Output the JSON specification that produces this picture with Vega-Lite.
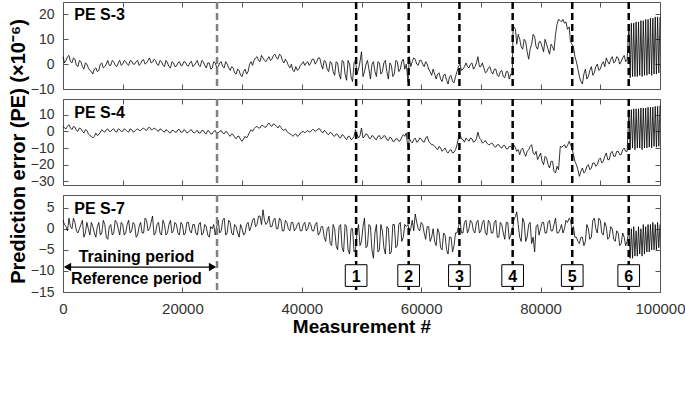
{
"$schema":"https://vega.github.io/schema/vega-lite/v6.json",
"padding":{"left":7,"top":0,"right":0,"bottom":0},
"bounds":"flush",
"spacing":10,
"config":{"font":"Liberation Sans","view":{"stroke":"#555","strokeWidth":1},"axis":{"grid":false,"domain":false,"tickColor":"#555","tickSize":-5,"tickWidth":1,"labelColor":"#333","labelFlush":false,"labelOverlap":false,"labelBound":false}},
"datasets":{
"ev":[{"x":49100,"n":"1"},{"x":57900,"n":"2"},{"x":66400,"n":"3"},{"x":75320,"n":"4"},{"x":85300,"n":"5"},{"x":94760,"n":"6"}],
"series":[
{"x":0,"a":3,"b":3,"c":2},{"x":250,"a":0.5,"b":2,"c":1},{"x":500,"a":1.5,"b":1.5,"c":0.5},{"x":750,"a":3,"b":3,"c":-0.5},{"x":1000,"a":3.5,"b":4,"c":2.5},{"x":1250,"a":1,"b":2,"c":0.5},{"x":1500,"a":0.5,"b":1,"c":0},{"x":1750,"a":2.5,"b":3,"c":2.5},{"x":2000,"a":2,"b":2.5,"c":1.5},{"x":2250,"a":-0.5,"b":0.5,"c":-0.5},
{"x":2500,"a":-1,"b":0,"c":-1},{"x":2750,"a":1.5,"b":2,"c":0},{"x":3000,"a":1,"b":1.5,"c":1},{"x":3250,"a":-1,"b":0,"c":2},{"x":3500,"a":-2,"b":-1,"c":-2},{"x":3750,"a":0.5,"b":1,"c":-1},{"x":4000,"a":0,"b":0.5,"c":1.5},{"x":4250,"a":-1.5,"b":-1.5,"c":0},{"x":4500,"a":-2.5,"b":-2.5,"c":-1.5},{"x":4750,"a":-3,"b":-3,"c":1.5},
{"x":5000,"a":-4,"b":-4,"c":0.5},{"x":5250,"a":-2,"b":-3,"c":-1},{"x":5500,"a":-1.5,"b":-1,"c":-2},{"x":5750,"a":-3,"b":-2.5,"c":0.5},{"x":6000,"a":-2.5,"b":-2,"c":1.5},{"x":6250,"a":0,"b":-0.5,"c":-1.5},{"x":6500,"a":0.5,"b":1,"c":-1},{"x":6750,"a":-1.5,"b":0,"c":2},{"x":7000,"a":-1,"b":-0.5,"c":1},{"x":7250,"a":0,"b":1,"c":-2},
{"x":7500,"a":1.5,"b":1.5,"c":-2.5},{"x":7750,"a":-0.5,"b":0,"c":0.5},{"x":8000,"a":-0.5,"b":0,"c":1},{"x":8250,"a":1.5,"b":1,"c":-1.5},{"x":8500,"a":1,"b":1.5,"c":-1},{"x":8750,"a":-0.5,"b":0,"c":2},{"x":9000,"a":-1,"b":-0.5,"c":1.5},{"x":9250,"a":0.5,"b":1.5,"c":0},{"x":9500,"a":1.5,"b":1,"c":-1.5},{"x":9750,"a":-0.5,"b":0,"c":1.5},
{"x":10000,"a":0,"b":0,"c":1},{"x":10250,"a":1.5,"b":1.5,"c":-1.5},{"x":10500,"a":1,"b":1,"c":-1},{"x":10750,"a":0,"b":0,"c":1},{"x":11000,"a":-0.5,"b":-0.5,"c":2},{"x":11250,"a":1.5,"b":1.5,"c":-1},{"x":11500,"a":1.2,"b":1,"c":-0.5},{"x":11750,"a":0,"b":-0.5,"c":1.5},{"x":12000,"a":0,"b":0,"c":1},{"x":12250,"a":1,"b":1,"c":-2},
{"x":12500,"a":1.5,"b":1.5,"c":-1.5},{"x":12750,"a":-0.5,"b":0.5,"c":0.5},{"x":13000,"a":0.2,"b":0.5,"c":1.5},{"x":13250,"a":1.5,"b":1.5,"c":-1},{"x":13500,"a":1.8,"b":2,"c":-1},{"x":13750,"a":0,"b":1,"c":2.5},{"x":14000,"a":0.5,"b":0.5,"c":2},{"x":14250,"a":1.5,"b":2,"c":-0.5},{"x":14500,"a":2.5,"b":2.5,"c":0},{"x":14750,"a":0.5,"b":1,"c":1.5},
{"x":15000,"a":0.8,"b":1,"c":3},{"x":15250,"a":2,"b":2,"c":-1.5},{"x":15500,"a":1.5,"b":1.5,"c":-1},{"x":15750,"a":0,"b":0.5,"c":1},{"x":16000,"a":-0.5,"b":0,"c":1.5},{"x":16250,"a":1.5,"b":1.5,"c":-1},{"x":16500,"a":1,"b":1,"c":-1.5},{"x":16750,"a":-0.5,"b":0,"c":2},{"x":17000,"a":-1,"b":-0.5,"c":1},{"x":17250,"a":1.5,"b":1,"c":-1.5},
{"x":17500,"a":0.5,"b":0.5,"c":-1},{"x":17750,"a":-1,"b":-0.5,"c":1},{"x":18000,"a":-1.5,"b":-1,"c":2},{"x":18250,"a":1,"b":0.5,"c":-1},{"x":18500,"a":0.5,"b":0.5,"c":-0.5},{"x":18750,"a":-1,"b":-0.5,"c":1.5},{"x":19000,"a":-0.8,"b":-0.5,"c":1},{"x":19250,"a":0.5,"b":1,"c":-1},{"x":19500,"a":1,"b":1,"c":-1.5},{"x":19750,"a":-0.5,"b":-0.5,"c":1.5},
{"x":20000,"a":-0.5,"b":-0.5,"c":1},{"x":20250,"a":1,"b":1,"c":-1.5},{"x":20500,"a":0.8,"b":0.5,"c":-1},{"x":20750,"a":-0.5,"b":-1,"c":1.5},{"x":21000,"a":-0.8,"b":-0.5,"c":1.5},{"x":21250,"a":0.5,"b":0.5,"c":-0.5},{"x":21500,"a":1.2,"b":1,"c":-1},{"x":21750,"a":-1,"b":-0.5,"c":1},{"x":22000,"a":-0.5,"b":-1,"c":1},{"x":22250,"a":0.5,"b":0,"c":-1},
{"x":22500,"a":1.5,"b":0.5,"c":-1.5},{"x":22750,"a":-0.5,"b":-1,"c":1},{"x":23000,"a":-1,"b":-1,"c":1.5},{"x":23250,"a":1.5,"b":0.5,"c":-1.5},{"x":23500,"a":1,"b":0.5,"c":-1},{"x":23750,"a":-0.5,"b":-1,"c":1},{"x":24000,"a":-1.5,"b":-1.5,"c":0.5},{"x":24250,"a":0.5,"b":0.5,"c":-1.5},{"x":24500,"a":0.5,"b":0,"c":-2},{"x":24750,"a":-2,"b":-1.5,"c":0.5},
{"x":25000,"a":-1.5,"b":-1.5,"c":0},{"x":25250,"a":1,"b":0,"c":1},{"x":25500,"a":0.5,"b":0.5,"c":-1.5},{"x":25750,"a":-1.5,"b":-1.5,"c":0.5},{"x":26000,"a":-1,"b":-1,"c":2},{"x":26250,"a":0.5,"b":0,"c":-1},{"x":26500,"a":1,"b":0.5,"c":-0.5},{"x":26750,"a":-1,"b":-1,"c":2},{"x":27000,"a":-1.5,"b":-1.5,"c":2.5},{"x":27250,"a":1,"b":0,"c":-1.5},
{"x":27500,"a":0,"b":-0.5,"c":-1},{"x":27750,"a":-1.5,"b":-2,"c":2},{"x":28000,"a":-2.5,"b":-3,"c":1.5},{"x":28250,"a":-1,"b":-1.5,"c":-1},{"x":28500,"a":-1.5,"b":-2,"c":-1.5},{"x":28750,"a":-3.5,"b":-3.5,"c":1},{"x":29000,"a":-4,"b":-4.5,"c":0.5},{"x":29250,"a":-2,"b":-3,"c":-1},{"x":29500,"a":-2.5,"b":-3,"c":-2},{"x":29750,"a":-4.5,"b":-5,"c":1},
{"x":30000,"a":-5,"b":-6,"c":0},{"x":30250,"a":-3,"b":-4.5,"c":-1.5},{"x":30500,"a":-2,"b":-3,"c":-1},{"x":30750,"a":-4,"b":-4,"c":1},{"x":31000,"a":-3,"b":-2.5,"c":1.5},{"x":31250,"a":0,"b":-0.5,"c":-0.5},{"x":31500,"a":1,"b":1,"c":0.5},{"x":31750,"a":-0.5,"b":0,"c":2},{"x":32000,"a":1.5,"b":1.5,"c":2.5},{"x":32250,"a":2.5,"b":2.5,"c":0.5},
{"x":32500,"a":3,"b":3,"c":1},{"x":32750,"a":1.5,"b":2,"c":3},{"x":33000,"a":1,"b":2,"c":3},{"x":33250,"a":3.5,"b":3.5,"c":1},{"x":33500,"a":2.5,"b":3.5,"c":4.5},{"x":33750,"a":1.5,"b":2.5,"c":2},{"x":34000,"a":1,"b":2.5,"c":1},{"x":34250,"a":2,"b":4,"c":1.5},{"x":34500,"a":3,"b":5,"c":3},{"x":34750,"a":1.5,"b":3.5,"c":0.5},
{"x":35000,"a":2,"b":3,"c":0.5},{"x":35250,"a":3.5,"b":4.5,"c":2},{"x":35500,"a":4,"b":4,"c":2.5},{"x":35750,"a":2.5,"b":3,"c":0},{"x":36000,"a":2,"b":2,"c":0},{"x":36250,"a":4,"b":3.5,"c":2.5},{"x":36500,"a":3.5,"b":2.5,"c":2},{"x":36750,"a":1.5,"b":1,"c":-0.5},{"x":37000,"a":0.5,"b":0.5,"c":-0.5},{"x":37250,"a":2,"b":1.5,"c":2},
{"x":37500,"a":1,"b":0,"c":1.5},{"x":37750,"a":-0.5,"b":-1,"c":0},{"x":38000,"a":-1.5,"b":-1.5,"c":-0.5},{"x":38250,"a":0,"b":-2,"c":1.5},{"x":38500,"a":-2.5,"b":-3,"c":1.5},{"x":38750,"a":-3,"b":-2,"c":-0.5},{"x":39000,"a":-1,"b":-1.5,"c":0},{"x":39250,"a":-2.5,"b":-3,"c":1},{"x":39500,"a":-2,"b":-2.5,"c":1.5},{"x":39750,"a":-0.5,"b":-1,"c":-0.5},
{"x":40000,"a":0,"b":-0.5,"c":-0.5},{"x":40250,"a":1,"b":0,"c":1},{"x":40500,"a":-0.5,"b":-1,"c":1.5},{"x":40750,"a":0.5,"b":0,"c":-0.5},{"x":41000,"a":1,"b":0.5,"c":0},{"x":41250,"a":-0.5,"b":-0.5,"c":1.5},{"x":41500,"a":0.5,"b":0,"c":1},{"x":41750,"a":2,"b":1,"c":-0.5},{"x":42000,"a":2,"b":1,"c":-0.5},{"x":42250,"a":0,"b":0,"c":1},
{"x":42500,"a":1,"b":0.5,"c":1.5},{"x":42750,"a":2.5,"b":1.5,"c":-1.5},{"x":43000,"a":2.5,"b":1.5,"c":-1},{"x":43250,"a":0,"b":0,"c":0.5},{"x":43500,"a":-2,"b":-1,"c":0.5},{"x":43750,"a":1.5,"b":0.5,"c":-2},{"x":44000,"a":1,"b":0,"c":-3},{"x":44250,"a":-2,"b":-1.5,"c":0},{"x":44500,"a":-3,"b":-2,"c":0.5},{"x":44750,"a":1,"b":-0.5,"c":-3.5},
{"x":45000,"a":0.5,"b":-1,"c":-4},{"x":45250,"a":-3,"b":-2.5,"c":1},{"x":45500,"a":-4.5,"b":-3,"c":0},{"x":45750,"a":1,"b":-1.5,"c":-4},{"x":46000,"a":0.5,"b":-2,"c":-5},{"x":46250,"a":-4,"b":-3.5,"c":0.5},{"x":46500,"a":-6,"b":-4,"c":1},{"x":46750,"a":1.5,"b":-2,"c":-4.5},{"x":47000,"a":1,"b":-2.5,"c":-5.5},{"x":47250,"a":-4,"b":-4,"c":1},
{"x":47500,"a":-6.5,"b":-5,"c":0.5},{"x":47750,"a":1.5,"b":-3,"c":-5},{"x":48000,"a":0,"b":-3,"c":-6},{"x":48250,"a":-5,"b":-5,"c":0},{"x":48500,"a":-7,"b":-4.5,"c":0},{"x":48750,"a":0.5,"b":-3,"c":-5.5},{"x":49000,"a":1.5,"b":1,"c":-5},{"x":49250,"a":-4,"b":-2,"c":-1},{"x":49500,"a":-2,"b":-4,"c":1},{"x":49750,"a":1,"b":-2.5,"c":-4},
{"x":50000,"a":5,"b":2,"c":-3},{"x":50250,"a":-5,"b":-4,"c":0.5},{"x":50500,"a":-3,"b":-3,"c":2.5},{"x":50750,"a":0,"b":-1.5,"c":-4.5},{"x":51000,"a":1.5,"b":-2,"c":-4},{"x":51250,"a":-2,"b":-4,"c":1},{"x":51500,"a":-6,"b":-4.5,"c":0.5},{"x":51750,"a":0,"b":-2.5,"c":-5},{"x":52000,"a":1,"b":-3,"c":-7},{"x":52250,"a":-3,"b":-4.5,"c":-1},
{"x":52500,"a":-5,"b":-5,"c":1},{"x":52750,"a":1,"b":-3,"c":-5.5},{"x":53000,"a":0.5,"b":-2.5,"c":-5},{"x":53250,"a":-4,"b":-4.5,"c":1},{"x":53500,"a":-3,"b":-4,"c":-0.5},{"x":53750,"a":0.5,"b":-2.5,"c":-4.5},{"x":54000,"a":1.5,"b":-3,"c":-6},{"x":54250,"a":-3,"b":-5,"c":0.5},{"x":54500,"a":-6,"b":-5.5,"c":0},{"x":54750,"a":0.5,"b":-3.5,"c":-6},
{"x":55000,"a":-0.5,"b":-4,"c":-5.5},{"x":55250,"a":-5,"b":-6,"c":1},{"x":55500,"a":-4,"b":-6,"c":1},{"x":55750,"a":1.5,"b":-4.5,"c":-4.5},{"x":56000,"a":1,"b":-4.5,"c":-4},{"x":56250,"a":-3,"b":-6,"c":1},{"x":56500,"a":-2,"b":-5.5,"c":1.5},{"x":56750,"a":1,"b":-3.5,"c":-3},{"x":57000,"a":2,"b":-2,"c":-2},{"x":57250,"a":-2,"b":-3,"c":1},
{"x":57500,"a":0,"b":-1,"c":0.5},{"x":57800,"a":-7,"b":-11,"c":1},{"x":58000,"a":3,"b":-4,"c":-1},{"x":58250,"a":-1,"b":-6,"c":0},{"x":58500,"a":1,"b":-7,"c":2},{"x":58750,"a":2.5,"b":-5,"c":-0.5},{"x":59000,"a":2,"b":-4,"c":3.5},{"x":59250,"a":0,"b":-6.5,"c":1.5},{"x":59500,"a":-0.5,"b":-6,"c":0},{"x":59750,"a":1.5,"b":-4,"c":-0.5},
{"x":60000,"a":1.5,"b":-4.5,"c":1.5},{"x":60250,"a":0,"b":-6,"c":1},{"x":60500,"a":-1,"b":-6.5,"c":-1},{"x":60750,"a":1,"b":-4,"c":-2.5},{"x":61000,"a":0,"b":-3,"c":0.5},{"x":61250,"a":-2,"b":-6,"c":0.5},{"x":61500,"a":-3,"b":-7,"c":-3},{"x":61750,"a":-4.5,"b":-8,"c":-2},{"x":62000,"a":-2,"b":-8,"c":0},{"x":62250,"a":-4,"b":-9,"c":-3},
{"x":62500,"a":-6,"b":-10,"c":-4},{"x":62750,"a":-4,"b":-11,"c":0},{"x":63000,"a":-3.5,"b":-9,"c":-1},{"x":63250,"a":-6,"b":-10,"c":-4.5},{"x":63500,"a":-7,"b":-12,"c":-5},{"x":63750,"a":-4.5,"b":-11,"c":-1},{"x":64000,"a":-4,"b":-10,"c":-1.5},{"x":64250,"a":-6.5,"b":-12,"c":-5},{"x":64500,"a":-8,"b":-13,"c":-6},{"x":64750,"a":-5,"b":-11.5,"c":-2},
{"x":65000,"a":-4.5,"b":-11,"c":-2},{"x":65250,"a":-7,"b":-13,"c":-5.5},{"x":65500,"a":-7.5,"b":-12.5,"c":-4},{"x":65750,"a":-5,"b":-11,"c":-1},{"x":66000,"a":-3,"b":-8,"c":-1},{"x":66250,"a":-1,"b":-4,"c":0.5},{"x":66500,"a":0,"b":-2,"c":2},{"x":66750,"a":-2.5,"b":-4.5,"c":-1},{"x":67000,"a":-2,"b":-5,"c":-1},{"x":67250,"a":-1,"b":-6.5,"c":1.5},
{"x":67500,"a":0.5,"b":-4,"c":2},{"x":67750,"a":-1,"b":-5,"c":-1},{"x":68000,"a":-1.5,"b":-6,"c":0},{"x":68250,"a":0,"b":-4,"c":2},{"x":68500,"a":0.5,"b":-4.5,"c":1.5},{"x":68750,"a":-2,"b":-6.5,"c":-0.5},{"x":69000,"a":-1,"b":-6,"c":-1},{"x":69250,"a":0.5,"b":-4.5,"c":1.5},{"x":69500,"a":3,"b":-0.5,"c":2},{"x":69750,"a":-1,"b":-4,"c":-1},
{"x":70000,"a":-1,"b":-5,"c":-0.5},{"x":70250,"a":0.5,"b":-7,"c":1.5},{"x":70500,"a":-1.5,"b":-6.5,"c":2},{"x":70750,"a":-3.5,"b":-5.5,"c":-1},{"x":71000,"a":-3,"b":-7,"c":-1.5},{"x":71250,"a":-1.5,"b":-8,"c":2},{"x":71500,"a":-1,"b":-8,"c":1.5},{"x":71750,"a":-3,"b":-7,"c":-1},{"x":72000,"a":-4,"b":-7.5,"c":-1},{"x":72250,"a":-2,"b":-9,"c":1.5},
{"x":72500,"a":-2,"b":-9.5,"c":2},{"x":72750,"a":-4.5,"b":-8,"c":-2},{"x":73000,"a":-5,"b":-8,"c":-2},{"x":73250,"a":-3,"b":-9.5,"c":1.5},{"x":73500,"a":-2.5,"b":-10,"c":1},{"x":73750,"a":-5,"b":-8.5,"c":-1},{"x":74000,"a":-5.5,"b":-8.5,"c":-2.5},{"x":74250,"a":-3,"b":-10.5,"c":1.5},{"x":74500,"a":-3,"b":-10.5,"c":1.5},{"x":74750,"a":-6,"b":-9,"c":-2.5},
{"x":75000,"a":-4,"b":-9,"c":-1.5},{"x":75250,"a":-4.5,"b":-10,"c":0},{"x":75400,"a":15.5,"b":-9,"c":0.5},{"x":75500,"a":15,"b":-8,"c":2},{"x":75800,"a":14,"b":-10,"c":3},{"x":76000,"a":8,"b":-12,"c":4},{"x":76250,"a":12,"b":-11,"c":1},{"x":76500,"a":10,"b":-14,"c":-2},{"x":76750,"a":7,"b":-11,"c":-3},{"x":77000,"a":6,"b":-10,"c":2.5},
{"x":77250,"a":10,"b":-13,"c":1.5},{"x":77500,"a":9,"b":-15,"c":-3},{"x":77750,"a":5,"b":-12,"c":-2},{"x":78000,"a":2,"b":-11,"c":1},{"x":78250,"a":6,"b":-9,"c":1.5},{"x":78500,"a":8,"b":-8,"c":-3.5},{"x":78750,"a":12,"b":-13,"c":-2},{"x":79000,"a":11,"b":-14,"c":-5.5},{"x":79250,"a":7,"b":-12,"c":0.5},{"x":79500,"a":6,"b":-17,"c":1},
{"x":79750,"a":9,"b":-15,"c":-1.5},{"x":80000,"a":9,"b":-13,"c":0},{"x":80250,"a":7,"b":-18,"c":1.5},{"x":80500,"a":5,"b":-20,"c":1.5},{"x":80750,"a":10,"b":-15,"c":-1},{"x":81000,"a":8,"b":-16,"c":-1},{"x":81250,"a":6,"b":-20,"c":1.5},{"x":81500,"a":4,"b":-22,"c":2},{"x":81750,"a":8,"b":-18,"c":-0.5},{"x":82000,"a":7,"b":-18,"c":-0.5},
{"x":82250,"a":5.5,"b":-24,"c":1},{"x":82500,"a":12,"b":-25,"c":2.5},{"x":82750,"a":16,"b":-21,"c":-1},{"x":83000,"a":18,"b":-23,"c":-1},{"x":83300,"a":17.5,"b":-9,"c":0},{"x":83500,"a":17,"b":-9.5,"c":1},{"x":83750,"a":18,"b":-9,"c":-1},{"x":84000,"a":16.5,"b":-8,"c":0},{"x":84250,"a":17,"b":-10,"c":2},{"x":84500,"a":14,"b":-8.5,"c":1.5},
{"x":84800,"a":15,"b":-6,"c":2.5},{"x":85000,"a":9,"b":-8,"c":2},{"x":85250,"a":8,"b":-10,"c":0},{"x":85500,"a":7,"b":-14,"c":0.5},{"x":85750,"a":3,"b":-18,"c":-2},{"x":86000,"a":1,"b":-20,"c":-2},{"x":86250,"a":-2,"b":-23,"c":-3},{"x":86500,"a":-5,"b":-27,"c":-3.5},{"x":86750,"a":-7,"b":-24,"c":-2},{"x":87000,"a":-8,"b":-22,"c":-2},
{"x":87250,"a":-4,"b":-25,"c":-4},{"x":87500,"a":-2,"b":-24,"c":-3},{"x":87750,"a":-6,"b":-21,"c":1},{"x":88000,"a":-5,"b":-20,"c":0},{"x":88250,"a":-2.5,"b":-23,"c":-2.5},{"x":88500,"a":-1,"b":-22,"c":-2},{"x":88750,"a":-4.5,"b":-19,"c":2},{"x":89000,"a":-3.5,"b":-19,"c":2.5},{"x":89250,"a":-1,"b":-21,"c":0},{"x":89500,"a":0,"b":-20,"c":-1},
{"x":89750,"a":-2.5,"b":-17,"c":2.5},{"x":90000,"a":-2,"b":-16,"c":2},{"x":90250,"a":0,"b":-19,"c":-1},{"x":90500,"a":1,"b":-18,"c":-1.5},{"x":90750,"a":-1,"b":-15,"c":1.5},{"x":91000,"a":2.5,"b":-13,"c":0.5},{"x":91250,"a":1,"b":-17,"c":-2.5},{"x":91500,"a":0,"b":-17,"c":-2},{"x":91750,"a":2,"b":-13,"c":0.5},{"x":92000,"a":3,"b":-12,"c":0},
{"x":92250,"a":0.5,"b":-15,"c":-2.5},{"x":92500,"a":1,"b":-15,"c":-3},{"x":92750,"a":3,"b":-12,"c":-0.5},{"x":93000,"a":2.5,"b":-12,"c":-1},{"x":93250,"a":0,"b":-14,"c":-4},{"x":93500,"a":1,"b":-14,"c":-3.5},{"x":93750,"a":2.5,"b":-11,"c":-1},{"x":94000,"a":3.5,"b":-10,"c":-2},{"x":94250,"a":1,"b":-12,"c":-4},{"x":94500,"a":2,"b":-12,"c":-3},
{"x":94800,"a":16,"b":13,"c":0},{"x":95000,"a":-5.5,"b":-11,"c":-7},{"x":95200,"a":16.5,"b":13,"c":0},{"x":95400,"a":-5,"b":-10,"c":-7},{"x":95600,"a":16.5,"b":13.5,"c":0.5},{"x":95800,"a":-5,"b":-11,"c":-6.5},{"x":96000,"a":17,"b":13.5,"c":-0.5},{"x":96200,"a":-5,"b":-10,"c":-6.5},{"x":96400,"a":17,"b":13.5,"c":0.5},{"x":96600,"a":-4.5,"b":-10,"c":-6},
{"x":96800,"a":17.5,"b":14,"c":0},{"x":97000,"a":-5,"b":-11,"c":-6.5},{"x":97200,"a":17.5,"b":14,"c":1},{"x":97400,"a":-4.5,"b":-10,"c":-6},{"x":97600,"a":18,"b":14,"c":0.5},{"x":97800,"a":-4.5,"b":-10,"c":-5.5},{"x":98000,"a":18,"b":14.5,"c":1},{"x":98200,"a":-4,"b":-9.5,"c":-5.5},{"x":98400,"a":18.5,"b":14.5,"c":1},{"x":98600,"a":-4.5,"b":-10,"c":-5},
{"x":98800,"a":18.5,"b":14.5,"c":1.5},{"x":99000,"a":-4,"b":-9,"c":-5},{"x":99200,"a":19,"b":15,"c":1},{"x":99400,"a":-4,"b":-9.5,"c":-5},{"x":99600,"a":19,"b":15,"c":1.5},{"x":99800,"a":-3.5,"b":-9,"c":-4.5},{"x":100000,"a":19,"b":15.5,"c":1}
]},
"data":{"name":"series"},
"vconcat":[
{"width":597,"height":87,
 "resolve":{"axis":{"x":"independent","y":"independent"}},
 "layer":[
  {"mark":{"type":"line","color":"black","strokeWidth":0.8},
   "encoding":{"x":{"field":"x","type":"quantitative","scale":{"domain":[0,100000],"nice":false},"axis":{"orient":"bottom","values":[0,10000,20000,30000,40000,50000,60000,70000,80000,90000,100000],"labels":false,"title":null}},
    "y":{"field":"a","type":"quantitative","scale":{"domain":[-10,25],"nice":false},"axis":{"orient":"left","values":[-10,0,10,20],"labelFontSize":14,"labelPadding":14,"title":null}}}},
  {"data":{"values":[{"x":25800}]},"mark":{"type":"rule","color":"#808080","strokeDash":[7,4],"strokeWidth":2.5},"encoding":{"x":{"field":"x","type":"quantitative","axis":null}}},
  {"data":{"name":"ev"},"mark":{"type":"rule","color":"black","strokeDash":[7,4],"strokeWidth":2.5},"encoding":{"x":{"field":"x","type":"quantitative","axis":null}}},
  {"data":{"values":[{"t":"PE S-3"}]},"mark":{"type":"text","align":"left","baseline":"alphabetic","fontSize":16,"fontWeight":"bold","color":"black"},
   "encoding":{"text":{"field":"t"},"x":{"datum":1890,"type":"quantitative","axis":{"orient":"top","values":[0,10000,20000,30000,40000,50000,60000,70000,80000,90000,100000],"labels":false,"title":null}},
    "y":{"datum":17.6,"type":"quantitative","axis":{"orient":"right","values":[-10,0,10,20],"labels":false,"title":null}}}}
 ]},
{"width":597,"height":86,
 "resolve":{"axis":{"x":"independent","y":"independent"}},
 "layer":[
  {"mark":{"type":"line","color":"black","strokeWidth":0.8},
   "encoding":{"x":{"field":"x","type":"quantitative","scale":{"domain":[0,100000],"nice":false},"axis":{"orient":"bottom","values":[0,10000,20000,30000,40000,50000,60000,70000,80000,90000,100000],"labels":false,"title":null}},
    "y":{"field":"b","type":"quantitative","scale":{"domain":[-32.2,19.4],"nice":false},"axis":{"orient":"left","values":[-30,-20,-10,0,10],"labelFontSize":14,"labelPadding":14,"title":"Prediction error (PE) (×10⁻⁶)","titleFontSize":20,"titleFontWeight":"bold","titleColor":"black","titleAngle":270,"titleAlign":"center","titleBaseline":"alphabetic","titleX":-39,"titleY":52}}}},
  {"data":{"values":[{"x":25800}]},"mark":{"type":"rule","color":"#808080","strokeDash":[7,4],"strokeWidth":2.5},"encoding":{"x":{"field":"x","type":"quantitative","axis":null}}},
  {"data":{"name":"ev"},"mark":{"type":"rule","color":"black","strokeDash":[7,4],"strokeWidth":2.5},"encoding":{"x":{"field":"x","type":"quantitative","axis":null}}},
  {"data":{"values":[{"t":"PE S-4"}]},"mark":{"type":"text","align":"left","baseline":"alphabetic","fontSize":16,"fontWeight":"bold","color":"black"},
   "encoding":{"text":{"field":"t"},"x":{"datum":1890,"type":"quantitative","axis":{"orient":"top","values":[0,10000,20000,30000,40000,50000,60000,70000,80000,90000,100000],"labels":false,"title":null}},
    "y":{"datum":8.0,"type":"quantitative","axis":{"orient":"right","values":[-30,-20,-10,0,10],"labels":false,"title":null}}}}
 ]},
{"width":597,"height":97,
 "resolve":{"axis":{"x":"independent","y":"independent"}},
 "layer":[
  {"mark":{"type":"line","color":"black","strokeWidth":0.8},
   "encoding":{"x":{"field":"x","type":"quantitative","scale":{"domain":[0,100000],"nice":false},"axis":{"orient":"bottom","values":[0,20000,40000,60000,80000,100000],"format":"d","labelFontSize":15,"labelBaseline":"alphabetic","labelPadding":26.7,"title":"Measurement #","titleFontSize":19,"titleFontWeight":"bold","titleColor":"black","titleBaseline":"alphabetic","titleY":40}},
    "y":{"field":"c","type":"quantitative","scale":{"domain":[-15,8],"nice":false},"axis":{"orient":"left","values":[-15,-10,-5,0,5],"labelFontSize":14,"labelPadding":14,"title":null}}}},
  {"data":{"values":[{"x":25800}]},"mark":{"type":"rule","color":"#808080","strokeDash":[7,4],"strokeWidth":2.5},"encoding":{"x":{"field":"x","type":"quantitative","axis":null}}},
  {"data":{"name":"ev"},"mark":{"type":"rule","color":"black","strokeDash":[7,4],"strokeWidth":2.5},"encoding":{"x":{"field":"x","type":"quantitative","axis":null}}},
  {"data":{"name":"ev"},"mark":{"type":"point","shape":"square","size":470,"filled":true,"fill":"white","stroke":"black","strokeWidth":1,"opacity":1},"encoding":{"x":{"field":"x","type":"quantitative","axis":null},"y":{"datum":-11.1,"type":"quantitative","axis":null}}},
  {"data":{"name":"ev"},"mark":{"type":"text","fontSize":16,"fontWeight":"bold","color":"black","baseline":"middle","align":"center","dy":1},"encoding":{"text":{"field":"n"},"x":{"field":"x","type":"quantitative","axis":null},"y":{"datum":-11.1,"type":"quantitative","axis":null}}},
  {"data":{"values":[{}]},"mark":{"type":"rule","color":"black","strokeWidth":1.2},"encoding":{"x":{"datum":800,"type":"quantitative","axis":null},"x2":{"datum":25000},"y":{"datum":-9.08,"type":"quantitative","axis":null}}},
  {"data":{"values":[{}]},"mark":{"type":"point","shape":"triangle-left","size":70,"filled":true,"color":"black","opacity":1,"xOffset":4.5},"encoding":{"x":{"datum":0,"type":"quantitative","axis":null},"y":{"datum":-9.08,"type":"quantitative","axis":null}}},
  {"data":{"values":[{}]},"mark":{"type":"point","shape":"triangle-right","size":70,"filled":true,"color":"black","opacity":1,"xOffset":-4.5},"encoding":{"x":{"datum":25800,"type":"quantitative","axis":null},"y":{"datum":-9.08,"type":"quantitative","axis":null}}},
  {"data":{"values":[{"t":"Training period"}]},"mark":{"type":"text","align":"center","baseline":"alphabetic","fontSize":16,"fontWeight":"bold","color":"black"},"encoding":{"text":{"field":"t"},"x":{"datum":12300,"type":"quantitative","axis":null},"y":{"datum":-7.9,"type":"quantitative","axis":null}}},
  {"data":{"values":[{"t":"Reference period"}]},"mark":{"type":"text","align":"center","baseline":"alphabetic","fontSize":16,"fontWeight":"bold","color":"black"},"encoding":{"text":{"field":"t"},"x":{"datum":12300,"type":"quantitative","axis":null},"y":{"datum":-13.04,"type":"quantitative","axis":null}}},
  {"data":{"values":[{"t":"PE S-7"}]},"mark":{"type":"text","align":"left","baseline":"alphabetic","fontSize":16,"fontWeight":"bold","color":"black"},
   "encoding":{"text":{"field":"t"},"x":{"datum":1890,"type":"quantitative","axis":{"orient":"top","values":[0,20000,40000,60000,80000,100000],"labels":false,"title":null}},
    "y":{"datum":3.57,"type":"quantitative","axis":{"orient":"right","values":[-15,-10,-5,0,5],"labels":false,"title":null}}}}
 ]}
]
}
